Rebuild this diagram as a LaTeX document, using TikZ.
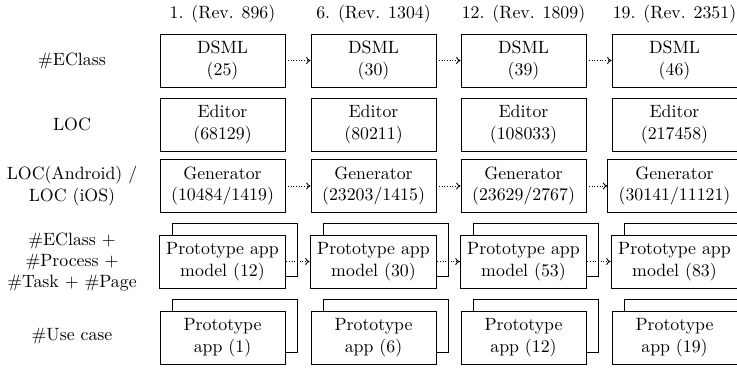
\documentclass[tikz,border=0pt]{standalone}
\usetikzlibrary{arrows.meta}
\begin{document}
\begin{tikzpicture}[x=0.5618pt,y=-0.5618pt,
  box/.style={draw, line width=0.5pt, fill=white, minimum width=70.2pt, minimum height=29.8pt, align=center, inner xsep=4pt},
  backbox/.style={draw, line width=0.5pt, minimum width=70.2pt, minimum height=29.8pt},
  flow/.style={densely dotted, line width=0.5pt, -{To[length=2.5pt,width=4pt]}},
  lbl/.style={align=center},
  hdr/.style={anchor=base}]
\useasboundingbox (0,0) rectangle (737,368);
% headers
\node[hdr] (h1) at (222.5,18) {1. (Rev. 896)};
\node[hdr] (h2) at (373.5,18) {6. (Rev. 1304)};
\node[hdr] (h3) at (523.5,18) {12. (Rev. 1809)};
\node[hdr] (h4) at (674.5,18) {19. (Rev. 2351)};
% row labels
\node[lbl] (l1) at (72,60.5) {\#EClass};
\node[lbl] (l2) at (72,124.5) {LOC};
\node[lbl] (l3) at (72,186) {LOC(Android) /\\LOC (iOS)};
\node[lbl] (l4) at (72,262) {\#EClass +\\\#Process +\\\#Task + \#Page};
\node[lbl] (l5) at (72,336) {\#Use case};
% row 1
\node[box] (d1) at (222.5,60.5) {DSML\\(25)};
\node[box] (d2) at (373.5,60.5) {DSML\\(30)};
\node[box] (d3) at (523.5,60.5) {DSML\\(39)};
\node[box] (d4) at (674.5,60.5) {DSML\\(46)};
% row 2
\node[box] (e1) at (222.5,124.5) {Editor\\(68129)};
\node[box] (e2) at (373.5,124.5) {Editor\\(80211)};
\node[box] (e3) at (523.5,124.5) {Editor\\(108033)};
\node[box] (e4) at (674.5,124.5) {Editor\\(217458)};
% row 3
\node[box] (g1) at (222.5,186) {Generator\\(10484/1419)};
\node[box] (g2) at (373.5,186) {Generator\\(23203/1415)};
\node[box] (g3) at (523.5,186) {Generator\\(23629/2767)};
\node[box, minimum width=75pt] (g4) at (674.5,186) {Generator\\(30141/11121)};
% row 4
\node[backbox] (mb1) at (234.5,249.5) {};
\node[backbox] (mb2) at (385.5,249.5) {};
\node[backbox] (mb3) at (535.5,249.5) {};
\node[backbox] (mb4) at (686.5,249.5) {};
\node[box] (m1) at (222.5,261.5) {Prototype app\\model (12)};
\node[box] (m2) at (373.5,261.5) {Prototype app\\model (30)};
\node[box] (m3) at (523.5,261.5) {Prototype app\\model (53)};
\node[box] (m4) at (674.5,261.5) {Prototype app\\model (83)};
% row 5
\node[backbox] (ab1) at (234.5,325.5) {};
\node[backbox] (ab2) at (385.5,325.5) {};
\node[backbox] (ab3) at (535.5,325.5) {};
\node[backbox] (ab4) at (686.5,325.5) {};
\node[box] (a1) at (222.5,337.5) {Prototype\\app (1)};
\node[box] (a2) at (373.5,337.5) {Prototype\\app (6)};
\node[box] (a3) at (523.5,337.5) {Prototype\\app (12)};
\node[box] (a4) at (674.5,337.5) {Prototype\\app (19)};
% arrows
\draw[flow] (d1) -- (d2);
\draw[flow] (d2) -- (d3);
\draw[flow] (d3) -- (d4);
\draw[flow] (g1) -- (g2);
\draw[flow] (g2) -- (g3);
\draw[flow] (g3) -- (g4);
\draw[flow] (m1) -- (m2);
\draw[flow] (m2) -- (m3);
\draw[flow] (m3) -- (m4);
\end{tikzpicture}
\end{document}
